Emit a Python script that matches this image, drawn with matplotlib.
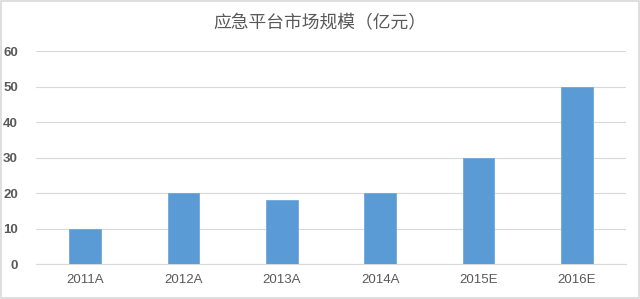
import matplotlib
matplotlib.use("Agg")
import matplotlib.pyplot as plt
from matplotlib.patches import Rectangle

plt.rcParams['font.family'] = ['Noto Sans CJK SC', 'DejaVu Sans']

categories = ["2011A", "2012A", "2013A", "2014A", "2015E", "2016E"]
values = [10, 20, 18, 20, 30, 50]
yticks = [0, 10, 20, 30, 40, 50, 60]
title = "应急平台市场规模（亿元）"

fig = plt.figure(figsize=(6.4, 2.99), dpi=100)
ax = fig.add_axes([0.05625, 0.117, 0.922, 0.712])

x = list(range(len(categories)))
ax.bar(x, values, width=0.32, color="#5B9BD5", edgecolor="#6FA8DC", linewidth=0.6, zorder=3)
ax.set_xlim(-0.5, len(categories) - 0.5)
ax.set_ylim(0, 60)
ax.set_yticks(yticks)
ax.set_yticklabels([str(v) for v in yticks], fontsize=9.5, color="#595959", fontweight="bold",
                   family=["Liberation Sans", "DejaVu Sans"])
ax.set_xticks(x)
ax.set_xticklabels(categories, fontsize=9.5, color="#595959", family=["Liberation Sans", "DejaVu Sans"])
ax.tick_params(axis="both", length=0)
ax.tick_params(axis="y", pad=13)
ax.tick_params(axis="x", pad=7)
ax.grid(axis="y", color="#D9D9D9", linewidth=0.8, zorder=0)
for s in ["top", "right", "left"]:
    ax.spines[s].set_visible(False)
ax.spines["bottom"].set_color("#D9D9D9")
ax.spines["bottom"].set_linewidth(0.8)

fig.text(0.5, 0.922, title, ha="center", va="center", fontsize=12.8, color="#595959")

fig.patches.append(Rectangle((0.001, 0.002), 0.997, 0.995, transform=fig.transFigure,
                             fill=False, edgecolor="#D9D9D9", linewidth=1.2))

fig.savefig("out.png", dpi=100)
